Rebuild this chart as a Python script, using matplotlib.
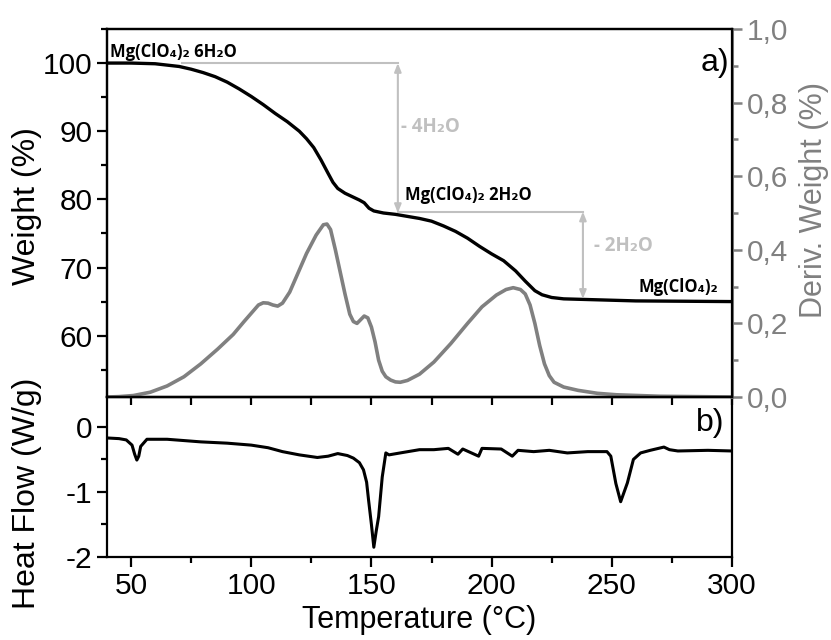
import matplotlib
matplotlib.use('Agg')
import matplotlib.pyplot as plt
from matplotlib.ticker import MultipleLocator, FuncFormatter

plt.rcParams['font.family'] = ['Liberation Sans', 'DejaVu Sans']

# TGA weight (%)
tga_t = [40, 50, 60, 65, 70, 75, 80, 85, 90, 95, 100, 105, 110, 115, 120, 123, 126,
         129, 132, 134, 136, 139, 142, 145, 147, 149, 151, 155, 160, 165, 170, 175,
         180, 185, 190, 195, 200, 205, 210, 214, 218, 221, 225, 230, 240, 260, 300]
tga_w = [100, 100, 99.9, 99.7, 99.5, 99.1, 98.6, 98.0, 97.2, 96.2, 95.1, 93.9, 92.6,
         91.4, 90.0, 88.9, 87.6, 85.8, 83.8, 82.5, 81.6, 80.9, 80.4, 79.9, 79.5, 78.7,
         78.3, 78.0, 77.8, 77.5, 77.2, 76.8, 76.1, 75.3, 74.3, 73.1, 72.0, 71.0, 69.5,
         68.0, 66.6, 66.0, 65.6, 65.4, 65.3, 65.1, 65.0]

# DTG deriv. weight
dtg_t = [40, 45, 51, 58, 65, 72, 79, 86, 92.5, 97, 101, 103, 105, 107, 109, 111, 113,
         116, 119, 123, 127, 130, 131.5, 133, 135, 137, 139, 141, 142.5, 144, 145.5,
         147, 148.5, 150, 151.5, 153, 154.5, 156, 158, 160, 162, 165, 170, 176, 183,
         190, 196, 202, 206, 209, 212, 214, 216, 218, 220, 222, 224, 226, 230, 236,
         244, 252, 270, 300]
dtg_d = [0, 0.001, 0.004, 0.013, 0.03, 0.055, 0.09, 0.13, 0.17, 0.205, 0.235, 0.25,
         0.256, 0.255, 0.25, 0.247, 0.255, 0.285, 0.33, 0.39, 0.44, 0.468, 0.47, 0.455,
         0.4, 0.34, 0.28, 0.225, 0.205, 0.2, 0.21, 0.22, 0.215, 0.19, 0.15, 0.1, 0.07,
         0.055, 0.046, 0.041, 0.04, 0.045, 0.062, 0.095, 0.145, 0.2, 0.245, 0.277,
         0.292, 0.297, 0.292, 0.28, 0.25, 0.2, 0.14, 0.09, 0.058, 0.04, 0.027, 0.018,
         0.01, 0.006, 0.002, 0]

# DSC heat flow (W/g)
hf_t = [40, 45, 48, 50.4, 51.5, 52.4, 53.2, 54, 56.6, 65, 79, 90, 100, 107, 113, 120,
        127.5, 132, 136, 140, 142.5, 145, 146.7, 148, 148.8, 150, 151, 152, 153, 154.5,
        156, 157.3, 162, 170, 176, 182, 186, 188, 194.6, 196, 204, 208.6, 211, 217.5,
        224, 231.5, 240, 248, 249.6, 251.7, 253.7, 256.5, 259, 262, 266, 271.7, 274,
        277.5, 290, 300]
hf_v = [-0.17, -0.18, -0.2, -0.28, -0.42, -0.51, -0.45, -0.3, -0.19, -0.19, -0.23,
        -0.25, -0.28, -0.32, -0.38, -0.43, -0.47, -0.45, -0.41, -0.44, -0.48, -0.55,
        -0.66, -0.85, -1.12, -1.5, -1.85, -1.6, -1.38, -0.77, -0.4, -0.43, -0.4, -0.35,
        -0.35, -0.33, -0.42, -0.34, -0.45, -0.33, -0.34, -0.45, -0.36, -0.38, -0.36,
        -0.4, -0.38, -0.38, -0.45, -0.87, -1.15, -0.86, -0.5, -0.4, -0.36, -0.31,
        -0.35, -0.37, -0.36, -0.37]

grey = '#808080'
light = '#c0c0c0'
fs = 21.5
lfs = 23

fig = plt.figure(figsize=(8.31, 6.4), dpi=100)
ax1 = fig.add_axes([0.1288, 0.3797, 0.752, 0.575])
ax2 = fig.add_axes([0.1288, 0.1297, 0.752, 0.25], sharex=ax1)
ax1r = ax1.twinx()

ax1.set_zorder(ax1r.get_zorder() + 1)
ax1.patch.set_visible(False)

ax1r.plot(dtg_t, dtg_d, color=grey, lw=2.6, solid_capstyle='round', solid_joinstyle='round')
ax1.plot(tga_t, tga_w, color='black', lw=2.4, solid_joinstyle='round')
ax2.plot(hf_t, hf_v, color='black', lw=2.2, solid_joinstyle='round')

ax1.set_xlim(40, 300)
ax1.set_ylim(51, 105)
ax1r.set_ylim(0, 1.0)
ax2.set_ylim(-2, 0.46)

for a in (ax1, ax2, ax1r):
    for s in a.spines.values():
        s.set_linewidth(1.6)
ax1r.spines['right'].set_color(grey)
ax1r.spines['right'].set_linewidth(2.2)

ax1.yaxis.set_major_locator(MultipleLocator(10))
ax1.yaxis.set_minor_locator(MultipleLocator(5))
ax1.tick_params(axis='y', which='major', direction='out', length=7, width=1.6, labelsize=fs)
ax1.tick_params(axis='y', which='minor', direction='out', length=4, width=1.6)
ax1.tick_params(axis='x', which='both', bottom=False, top=False, labelbottom=False)

ax1r.yaxis.set_major_locator(MultipleLocator(0.2))
ax1r.yaxis.set_minor_locator(MultipleLocator(0.1))
ax1r.yaxis.set_major_formatter(FuncFormatter(lambda v, p: ('%.1f' % v).replace('.', ',')))
ax1r.tick_params(axis='y', which='major', direction='out', length=7, width=1.8,
                 color=grey, labelcolor=grey, labelsize=fs)
ax1r.tick_params(axis='y', which='minor', direction='out', length=4, width=1.8, color=grey)

ax2.xaxis.set_major_locator(MultipleLocator(50))
ax2.xaxis.set_minor_locator(MultipleLocator(25))
ax2.yaxis.set_major_locator(MultipleLocator(1))
ax2.yaxis.set_minor_locator(MultipleLocator(0.5))
ax2.tick_params(axis='x', which='major', direction='out', length=7, width=1.6, labelsize=fs)
ax2.tick_params(axis='x', which='minor', direction='out', length=4, width=1.6)
ax2.tick_params(axis='y', which='major', direction='out', length=7, width=1.6, labelsize=fs)
ax2.tick_params(axis='y', which='minor', direction='out', length=4, width=1.6)
ax2.yaxis.set_major_formatter(FuncFormatter(lambda v, p: '%d' % v))

# inward ticks along the top edge of panel b
ax2t = ax2.secondary_xaxis('top')
ax2t.xaxis.set_major_locator(MultipleLocator(50))
ax2t.xaxis.set_minor_locator(MultipleLocator(25))
ax2t.tick_params(axis='x', which='both', direction='in', length=6, width=1.6, labeltop=False)

ax1.set_ylabel('Weight (%)', fontsize=lfs)
ax1.yaxis.set_label_coords(-0.104, 0.52)
ax1r.set_ylabel('Deriv. Weight (%)', fontsize=22, color=grey)
ax1r.yaxis.set_label_coords(1.108, 0.535)
ax2.set_ylabel('Heat Flow (W/g)', fontsize=lfs)
ax2.yaxis.set_label_coords(-0.104, 0.40)
ax2.set_xlabel('Temperature (°C)', fontsize=22, labelpad=4)

# annotations
lab = dict(fontsize=12, fontweight='bold', family=['Open Sans', 'DejaVu Sans'], va='center')
glab = dict(lab, fontsize=13.5)
ax1.text(41.3, 101.6, 'Mg(ClO₄)₂ 6H₂O', color='black', **lab)
ax1.text(164, 80.6, 'Mg(ClO₄)₂ 2H₂O', color='black', **lab)
ax1.text(261, 67.2, 'Mg(ClO₄)₂', color='black', **lab)
ax1.text(162.3, 90.6, '- 4H₂O', color=light, **glab)
ax1.text(242.5, 73.2, '- 2H₂O', color=light, **glab)

ax1.plot([71, 161], [100, 100], color=light, lw=1.5)
ax1.plot([161, 238], [78.2, 78.2], color=light, lw=1.5)
arr = dict(arrowstyle='<|-|>,head_length=0.5,head_width=0.2', color=light, lw=1.5,
           shrinkA=0, shrinkB=0)
ax1.annotate('', xy=(161, 100), xytext=(161, 78.0), arrowprops=arr)
ax1.annotate('', xy=(238, 78.2), xytext=(238, 65.4), arrowprops=arr)

ax1.text(298.8, 100, 'a)', fontsize=lfs, ha='right', va='center')
ax2.text(296.8, 0.06, 'b)', fontsize=lfs, ha='right', va='center')

fig.savefig('out.png', dpi=100)
